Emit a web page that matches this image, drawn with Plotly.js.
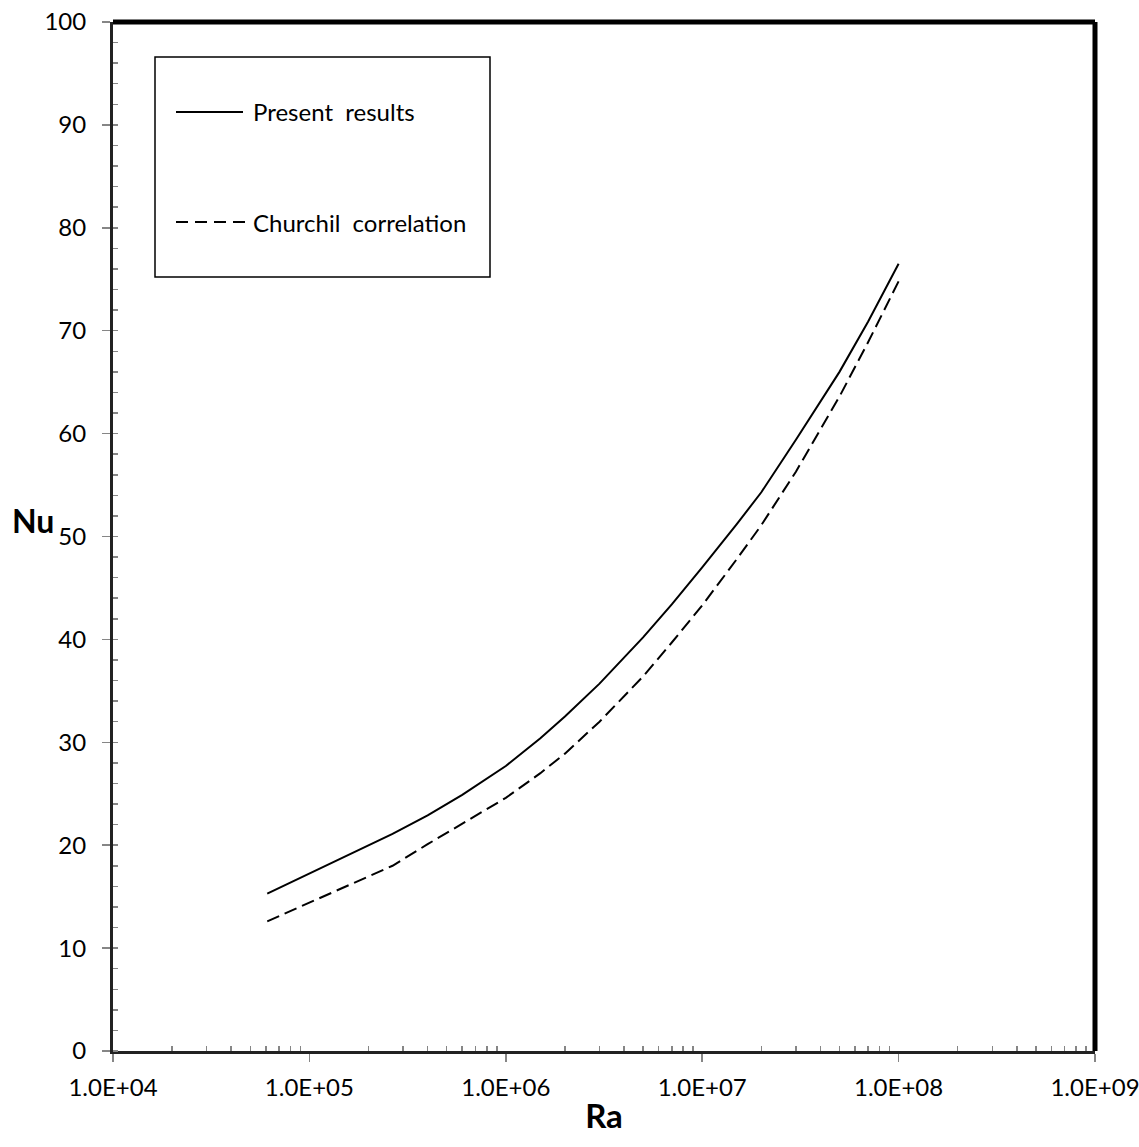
<!DOCTYPE html>
<html>
<head>
<meta charset="utf-8">
<script src="https://cdn.plot.ly/plotly-3.0.1.min.js"></script>
<style>
  html, body { margin: 0; padding: 0; background: #fff; }
  #chart { width: 1139px; height: 1147px; }
</style>
</head>
<body>
<div id="chart"></div>
<script>
// Rayleigh numbers and Nusselt numbers for both curves
const raValues = [6.1e4, 2.65e5, 4e5, 6e5, 1e6, 1.5e6, 2e6, 3e6, 5e6, 7e6,
                  1e7, 1.5e7, 2e7, 3e7, 5e7, 7e7, 1e8];
const nuPresent = [15.3, 21.1, 22.9, 24.9, 27.7, 30.4, 32.5, 35.7, 40.2, 43.4,
                   47.0, 51.2, 54.3, 59.4, 66.0, 70.9, 76.5];
const nuChurchill = [12.6, 18.0, 20.1, 22.1, 24.6, 27.0, 28.9, 32.0, 36.4, 39.7,
                     43.3, 47.8, 51.1, 56.3, 63.6, 68.9, 74.8];

const seriesNames = ['Present\u00a0 results', 'Churchil\u00a0 correlation'];

// Axis tick labels
const xTickVals = [1e4, 1e5, 1e6, 1e7, 1e8, 1e9];
const xTickText = ['1.0E+04', '1.0E+05', '1.0E+06', '1.0E+07', '1.0E+08', '1.0E+09'];

// minor tick positions between decades
const xMinor = [];
for (let d = 4; d < 9; d++) {
  for (let k = 2; k <= 9; k++) xMinor.push(k * Math.pow(10, d));
}

const FONT = 'Lato, "Open Sans", sans-serif';
const TICK_GRAY = '#868686';

const traces = [
  {
    x: raValues, y: nuPresent, name: seriesNames[0],
    type: 'scatter', mode: 'lines',
    line: { color: '#000', width: 2 },
    showlegend: false
  },
  {
    x: raValues, y: nuChurchill, name: seriesNames[1],
    type: 'scatter', mode: 'lines',
    line: { color: '#000', width: 2, dash: '13px,6px' },
    showlegend: false
  }
];

// pixel → paper helpers for the legend frame
const L = 113, R = 1095, T = 22, B = 1051;
const px = v => (v - L) / (R - L);
const py = v => (B - v) / (B - T);

const layout = {
  width: 1139, height: 1147,
  margin: { l: L, r: 1139 - R, t: T, b: 1147 - B },
  paper_bgcolor: '#fff', plot_bgcolor: '#fff',
  font: { family: FONT, size: 24, color: '#000' },
  showlegend: false,
  xaxis: {
    type: 'log', range: [4, 9],
    tickmode: 'array', tickvals: xTickVals, ticktext: xTickText,
    ticks: 'outside', ticklen: 8, tickwidth: 1.5, tickcolor: TICK_GRAY,
    ticklabelstandoff: 5, ticklabeloverflow: 'allow',
    minor: { tickvals: xMinor, ticks: 'inside', ticklen: 5, tickwidth: 1.5, tickcolor: TICK_GRAY },
    showline: true, linecolor: '#222', linewidth: 3,
    showgrid: false, zeroline: false,
    tickfont: { family: FONT, size: 24, color: '#000' },
    title: { text: '<b>Ra</b>', font: { family: FONT, size: 33, color: '#000' }, standoff: 6 }
  },
  yaxis: {
    range: [0, 100], dtick: 10, tick0: 0,
    ticks: 'outside', ticklen: 8, tickwidth: 1.5, tickcolor: TICK_GRAY,
    ticklabelstandoff: 11, ticklabeloverflow: 'allow',
    minor: { dtick: 2, ticks: 'inside', ticklen: 5, tickwidth: 1.5, tickcolor: TICK_GRAY },
    showline: true, linecolor: '#222', linewidth: 3,
    showgrid: false, zeroline: false,
    tickfont: { family: FONT, size: 24, color: '#000' }
  },
  shapes: [
    // heavy frame on top and right
    { type: 'line', xref: 'paper', yref: 'paper', x0: 0, x1: 1, y0: 1, y1: 1, line: { color: '#000', width: 5 } },
    { type: 'line', xref: 'paper', yref: 'paper', x0: 1, x1: 1, y0: 0, y1: 1, line: { color: '#000', width: 5 } },
    // legend frame
    { type: 'rect', xref: 'paper', yref: 'paper', x0: px(155), x1: px(490), y0: py(277), y1: py(57),
      line: { color: '#000', width: 1.5 }, fillcolor: '#fff' },
    // legend samples
    { type: 'line', xref: 'paper', yref: 'paper', x0: px(176), x1: px(243), y0: py(112), y1: py(112),
      line: { color: '#000', width: 2 } },
    { type: 'line', xref: 'paper', yref: 'paper', x0: px(176), x1: px(246), y0: py(222), y1: py(222),
      line: { color: '#000', width: 2, dash: '12px,7px' } }
  ],
  annotations: [
    { xref: 'paper', yref: 'paper', x: px(251), y: py(112), xanchor: 'left', yanchor: 'middle',
      text: seriesNames[0], showarrow: false, font: { family: FONT, size: 24, color: '#000' } },
    { xref: 'paper', yref: 'paper', x: px(251), y: py(222), xanchor: 'left', yanchor: 'middle',
      text: seriesNames[1], showarrow: false, font: { family: FONT, size: 24, color: '#000' } },
    { xref: 'paper', yref: 'paper', x: px(56), y: py(520), xanchor: 'right', yanchor: 'middle',
      text: '<b>Nu</b>', showarrow: false, font: { family: FONT, size: 32, color: '#000' } }
  ]
};

Plotly.newPlot('chart', traces, layout, { displayModeBar: false, staticPlot: true });
</script>
</body>
</html>
